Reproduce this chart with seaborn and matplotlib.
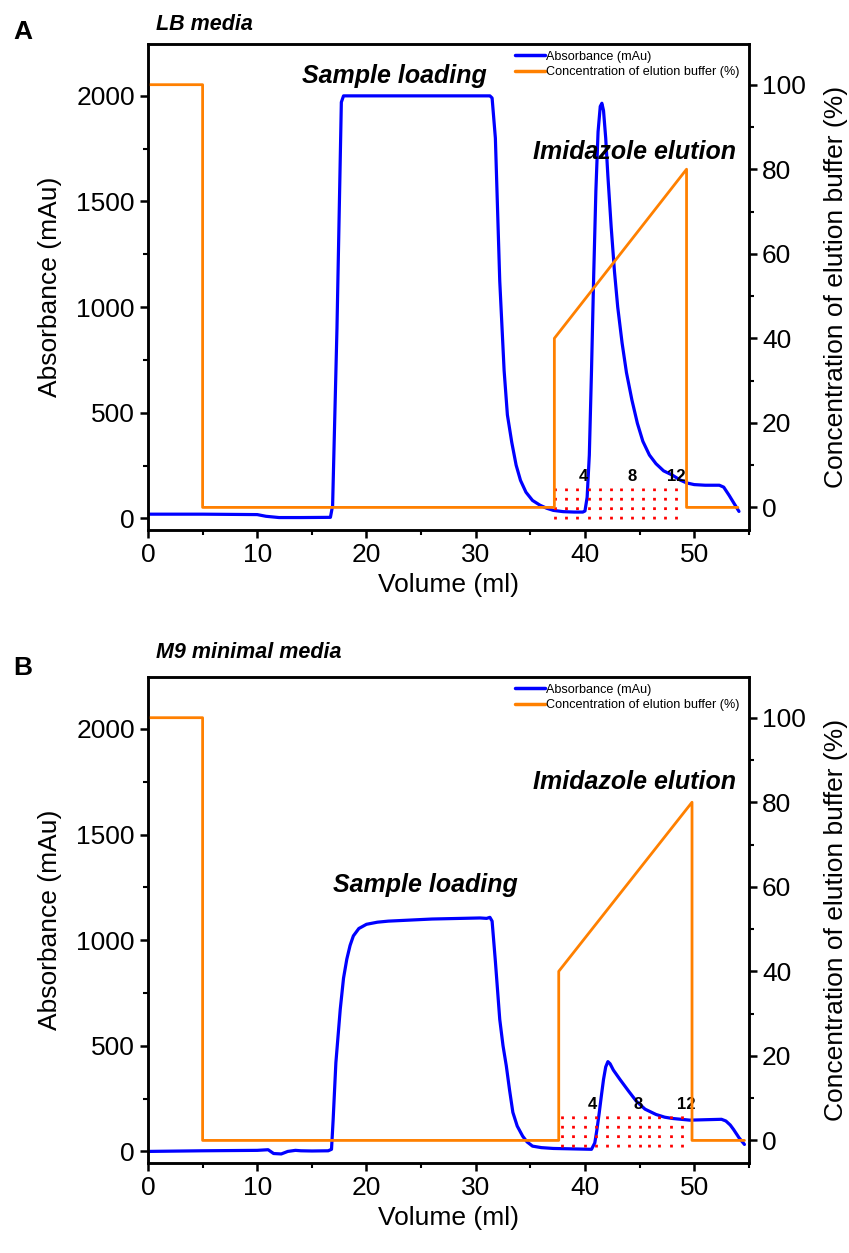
import numpy as np
import matplotlib
matplotlib.use('Agg')
import matplotlib.pyplot as plt
import seaborn as sns
from matplotlib.ticker import MultipleLocator
from matplotlib.lines import Line2D

# ---- panel A: LB media ----
a_vol = [0, 5, 10, 10.8, 12, 14, 16.7, 16.9, 17.3, 17.7, 17.9, 25, 31.3, 31.5,
         31.8, 32.2, 32.6, 32.9, 33.3, 33.7, 34.1, 34.6, 35.2, 35.9, 36.5, 37.1,
         38.0, 39.0, 39.8, 40.0, 40.2, 40.4, 40.6, 40.8, 41.0, 41.2, 41.4, 41.55,
         41.7, 41.9, 42.1, 42.4, 42.7, 43.0, 43.4, 43.8, 44.3, 44.8, 45.3, 45.9,
         46.5, 47.2, 48.0, 48.7, 49.3, 50.0, 51.0, 52.3, 52.7, 53.2, 53.6, 54.1]
a_abs = [20, 20, 18, 10, 4, 4, 5, 60, 900, 1970, 2000, 2000, 2000, 1990,
         1800, 1124, 700, 490, 360, 252, 180, 124, 85, 62, 48, 38,
         32, 30, 30, 35, 100, 300, 700, 1150, 1550, 1830, 1950, 1965,
         1930, 1800, 1620, 1380, 1170, 1000, 830, 690, 560, 450, 365, 300,
         259, 225, 205, 182, 168, 160, 157, 157, 148, 109, 75, 33]
a_conc_vol = [0, 5.0, 5.0, 37.2, 37.2, 49.3, 49.3, 54.0]
a_conc = [100, 100, 0, 0, 40, 80, 0, 0]
a_frac_x = [37.3, 38.3, 39.3, 40.4, 41.4, 42.4, 43.3, 44.3, 45.3, 46.3, 47.3, 48.3]
a_frac_lab = ["4", "8", "12"]
a_frac_lab_x = [39.9, 44.3, 48.4]

# ---- panel B: M9 minimal media ----
b_vol = [0, 5, 10, 11, 11.5, 12.2, 12.8, 13.5, 14, 15, 16.5, 16.8, 16.95, 17.2,
         17.6, 17.9, 18.2, 18.5, 18.8, 19.3, 20.0, 21.0, 22.0, 26.0, 30.4, 31.0,
         31.3, 31.5, 31.8, 32.2, 32.5, 32.8, 33.1, 33.4, 33.8, 34.3, 34.7, 35.2,
         36.0, 37.1, 40.6, 40.9, 41.1, 41.3, 41.5, 41.7, 41.9, 42.1, 42.3, 42.6,
         43.2, 44.0, 44.7, 45.5, 46.5, 47.3, 48.0, 49.6, 51.0, 52.5, 52.9, 53.3,
         53.6, 54.1, 54.6]
b_abs = [0, 3, 5, 8, -10, -12, 0, 5, 3, 2, 3, 10, 150, 420,
         673, 820, 910, 975, 1020, 1055, 1075, 1085, 1090, 1100, 1105, 1103,
         1108, 1090, 900, 625, 500, 405, 290, 185, 120, 72, 45, 25,
         18, 14, 10, 40, 104, 180, 262, 341, 400, 425, 415, 385,
         341, 285, 238, 200, 175, 162, 156, 148, 150, 152, 144, 125,
         104, 65, 33]
b_conc_vol = [0, 5.0, 5.0, 37.6, 37.6, 49.8, 49.8, 54.6]
b_conc = [100, 100, 0, 0, 40, 80, 0, 0]
b_frac_x = [37.9, 38.9, 40.0, 41.0, 42.0, 43.0, 44.0, 45.0, 45.9, 46.8, 47.9, 48.9]
b_frac_lab = ["4", "8", "12"]
b_frac_lab_x = [40.7, 44.9, 49.3]

BLUE = "#0000FF"
ORANGE = "#FF8000"
FS = 19

sns.set_theme(style="ticks")
plt.rcParams['font.family'] = ['Liberation Sans', 'DejaVu Sans']
plt.rcParams['text.color'] = 'black'
plt.rcParams['axes.labelcolor'] = 'black'
plt.rcParams['axes.linewidth'] = 1.8
plt.rcParams['xtick.major.width'] = 1.8
plt.rcParams['ytick.major.width'] = 1.8
plt.rcParams['xtick.minor.width'] = 1.5
plt.rcParams['ytick.minor.width'] = 1.5
plt.rcParams['xtick.major.size'] = 6
plt.rcParams['ytick.major.size'] = 6
plt.rcParams['xtick.minor.size'] = 3.5
plt.rcParams['ytick.minor.size'] = 3.5
plt.rcParams['axes.edgecolor'] = 'black'


def draw_panel(fig, rect, vol, absb, cvol, conc, frac_x, frac_y, lab_x, labs, lab_y,
               sample_xy, elution_xy):
    ax = fig.add_axes(rect)
    ax2 = ax.twinx()

    sns.lineplot(x=vol, y=absb, estimator=None, sort=False, color=BLUE,
                 linewidth=2.3, ax=ax)
    sns.lineplot(x=cvol, y=conc, estimator=None, sort=False, color=ORANGE,
                 linewidth=2.0, ax=ax2)

    ax.vlines(frac_x, frac_y[0], frac_y[1], colors="red", linewidth=2.0,
              linestyles=(0, (1.0, 2.4)))
    for x, t in zip(lab_x, labs):
        ax.text(x, lab_y, t, ha="center", va="center", fontsize=12,
                fontweight="bold")

    ax.text(sample_xy[0], sample_xy[1], "Sample loading", ha="center", va="center",
            fontsize=18, fontweight="bold", fontstyle="italic")
    ax.text(elution_xy[0], elution_xy[1], "Imidazole elution", ha="center",
            va="center", fontsize=18, fontweight="bold", fontstyle="italic")

    ax.set_xlim(0, 55)
    ax.set_ylim(-55, 2245)
    ax2.set_ylim(-5.35, 109.6)
    ax.xaxis.set_major_locator(MultipleLocator(10))
    ax.xaxis.set_minor_locator(MultipleLocator(5))
    ax.yaxis.set_major_locator(MultipleLocator(500))
    ax.yaxis.set_minor_locator(MultipleLocator(250))
    ax2.yaxis.set_major_locator(MultipleLocator(20))
    ax2.yaxis.set_minor_locator(MultipleLocator(10))
    for a in (ax, ax2):
        a.tick_params(which="both", direction="out", labelsize=FS, colors="black")
        for s in a.spines.values():
            s.set_visible(True)
            s.set_linewidth(1.8)
            s.set_color("black")
    ax.tick_params(axis="y", right=False)
    ax.set_xlabel("Volume (ml)", fontsize=FS, labelpad=4)
    ax.set_ylabel("Absorbance (mAu)", fontsize=FS, labelpad=10)
    ax2.set_ylabel("Concentration of elution buffer (%)", fontsize=FS, labelpad=13)

    handles = [Line2D([], [], color=BLUE, linewidth=2.5),
               Line2D([], [], color=ORANGE, linewidth=2.5)]
    ax2.legend(handles, ["Absorbance (mAu)", "Concentration of elution buffer (%)"],
               loc="upper right", bbox_to_anchor=(1.0, 1.005), frameon=False,
               fontsize=9.1, handlelength=2.4, handletextpad=0.1,
               labelspacing=0.3, borderaxespad=0.3)
    return ax


fig = plt.figure(figsize=(8.49, 12.53), dpi=100)

axA = draw_panel(fig, [0.1743, 0.577, 0.7077, 0.3878], a_vol, a_abs, a_conc_vol,
                 a_conc, a_frac_x, (-3, 143), a_frac_lab_x, a_frac_lab, 200,
                 (22.6, 2095), (44.5, 1735))
axB = draw_panel(fig, [0.1743, 0.0718, 0.7077, 0.3878], b_vol, b_abs, b_conc_vol,
                 b_conc, b_frac_x, (20, 170), b_frac_lab_x, b_frac_lab, 220,
                 (25.4, 1260), (44.5, 1747))

fig.text(13 / 849, 1 - 32 / 1253, "A", fontsize=19, fontweight="bold",
         ha="left", va="center")
fig.text(156 / 849, 1 - 24 / 1253, "LB media", fontsize=15.5, fontweight="bold",
         fontstyle="italic", ha="left", va="center")
fig.text(13 / 849, 1 - 668 / 1253, "B", fontsize=19, fontweight="bold",
         ha="left", va="center")
fig.text(156 / 849, 1 - 653 / 1253, "M9 minimal media", fontsize=15.5,
         fontweight="bold", fontstyle="italic", ha="left", va="center")

fig.savefig("out.png", dpi=100)
plt.close('all')
